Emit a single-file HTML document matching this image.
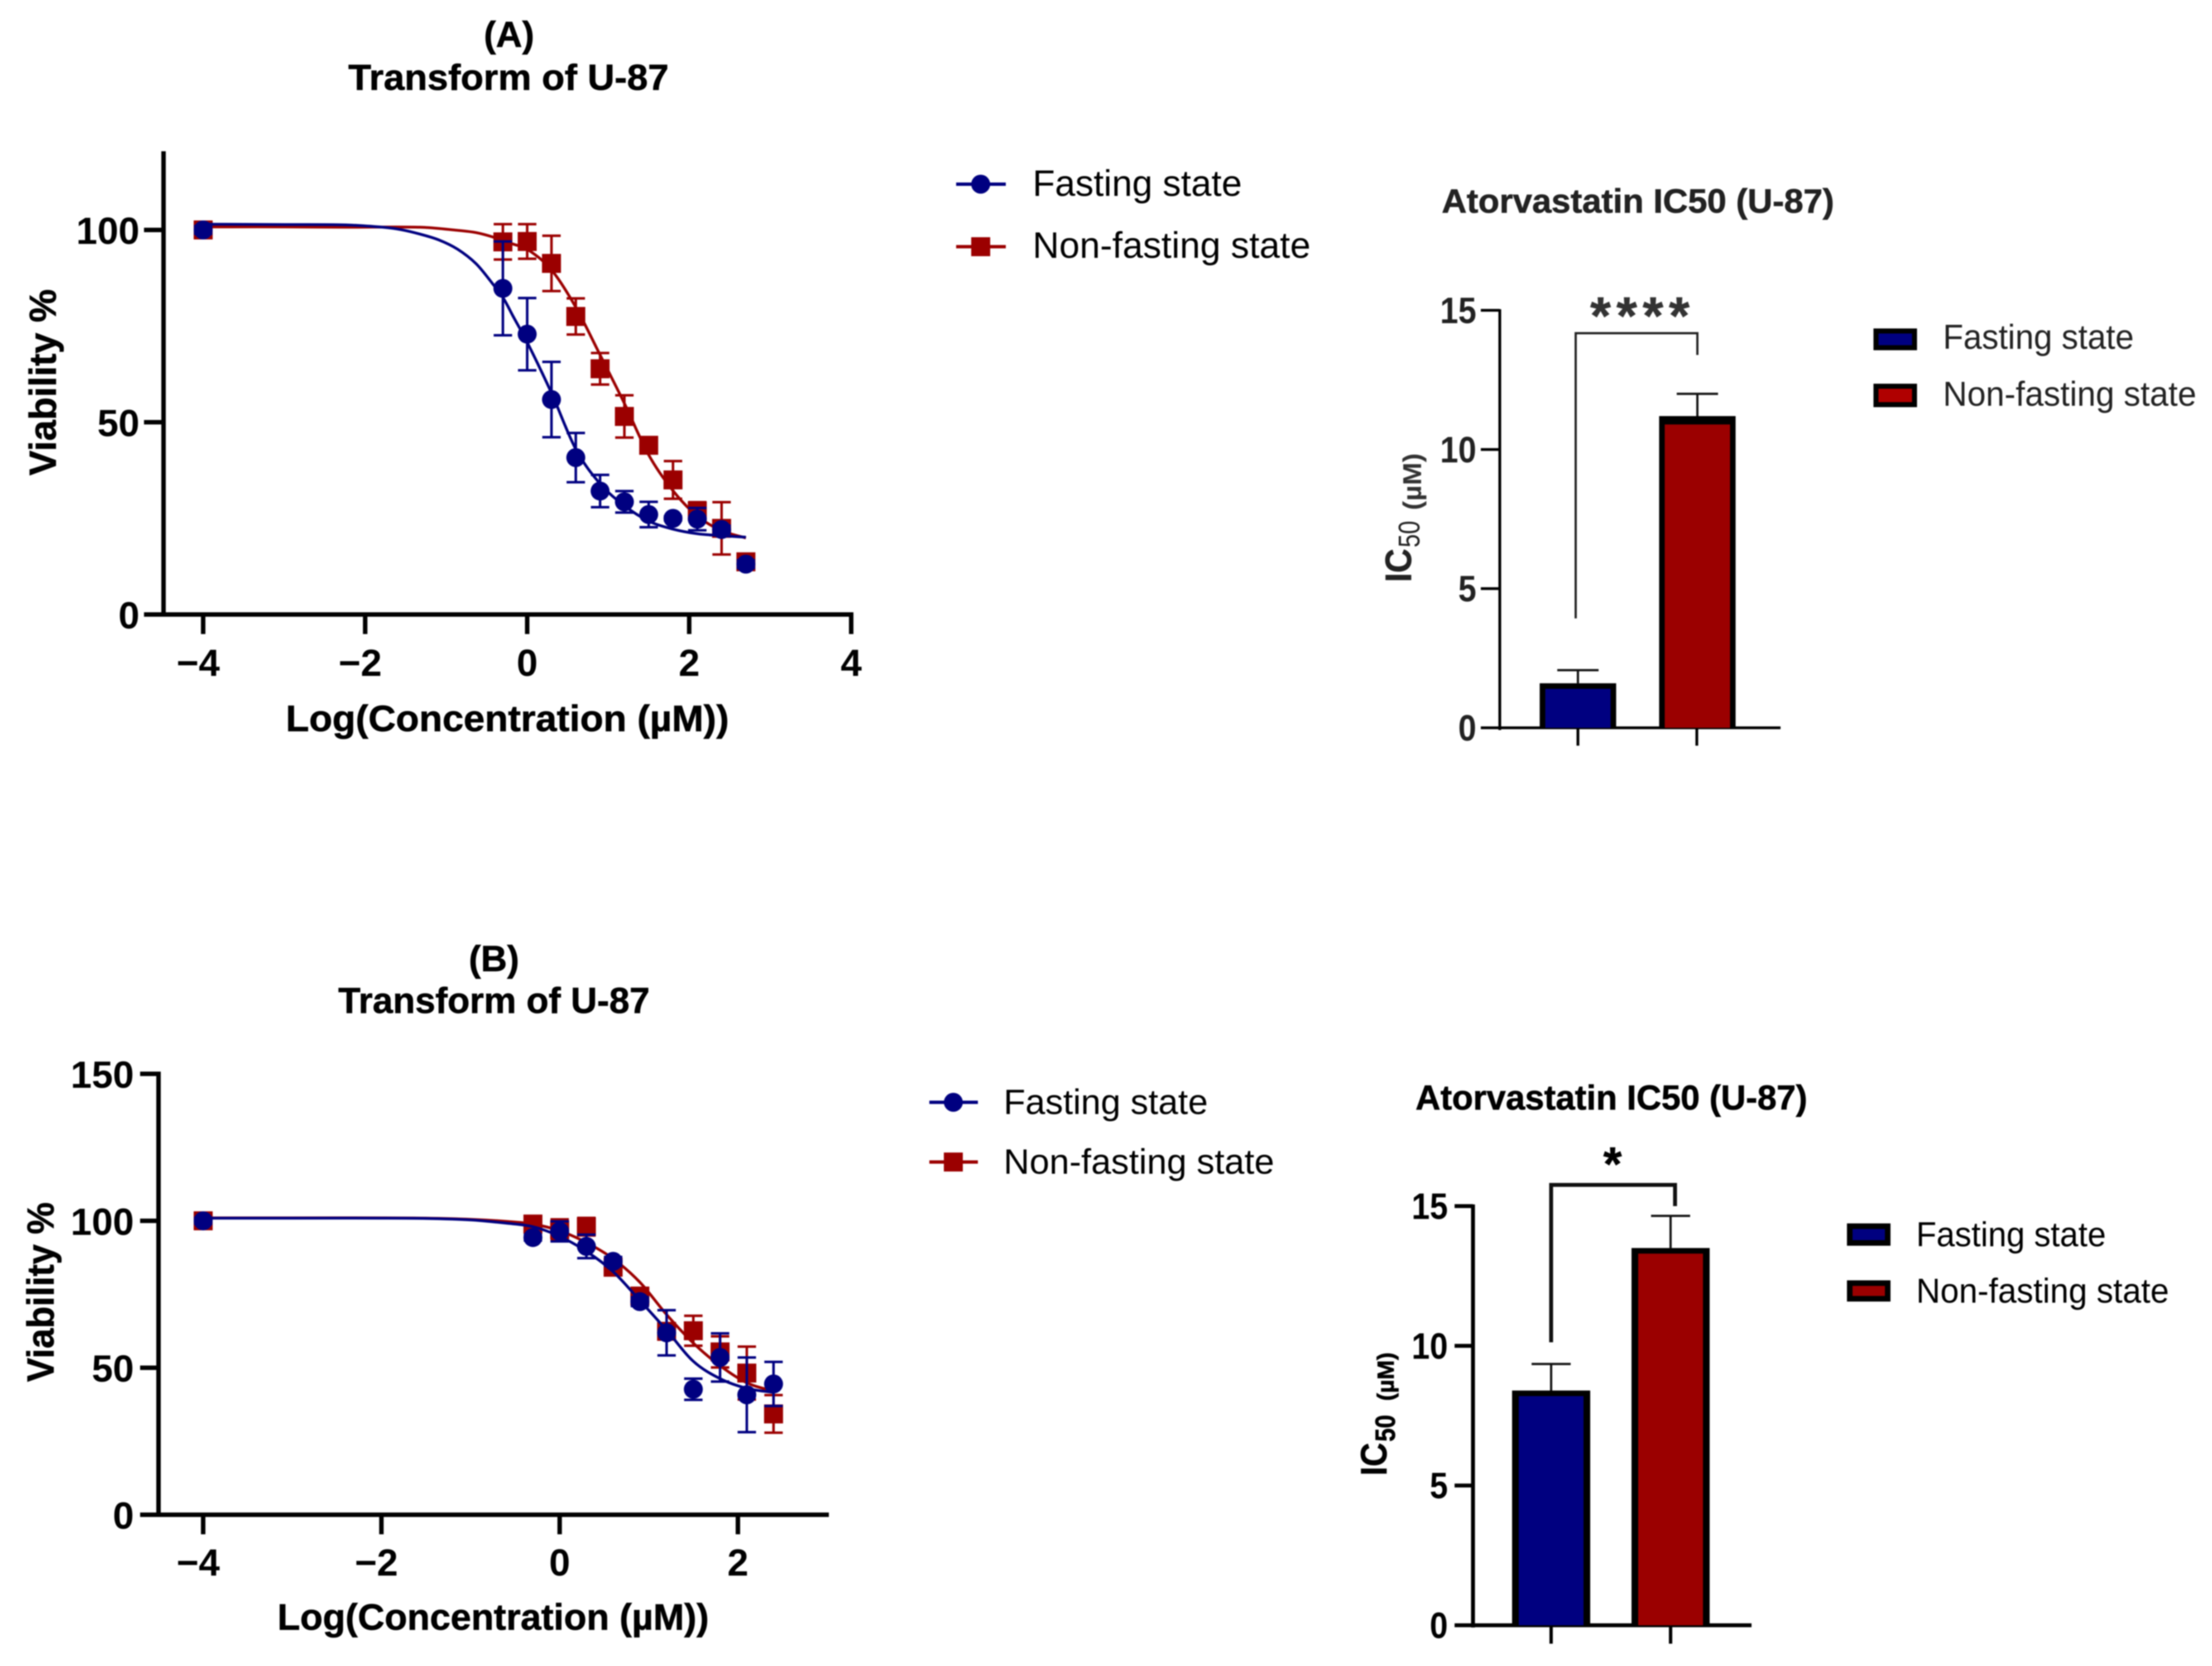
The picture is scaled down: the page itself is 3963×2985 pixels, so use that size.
<!DOCTYPE html>
<html lang="en">
<head>
<meta charset="utf-8">
<title>Atorvastatin viability and IC50 in U-87 cells</title>
<style>
html,body{margin:0;padding:0;background:#fff;}
svg{display:block;font-family:"Liberation Sans",Arial,sans-serif;filter:blur(1px);}
text{fill:#000;}
.b{font-weight:bold;stroke:#000;stroke-width:.8px;}
.title{font-size:65px;font-weight:bold;stroke:#000;stroke-width:.8px;}
.lg{font-size:66px;}
.lg2{font-size:62px;}
</style>
</head>
<body>
<svg id="figure" xmlns="http://www.w3.org/2000/svg" width="3963" height="2985" viewBox="0 0 3963 2985">
<rect width="3963" height="2985" fill="#fff"/>

<text class="title" x="912" y="84" text-anchor="middle">(A)</text>
<text class="title" x="911" y="161" text-anchor="middle" textLength="574" lengthAdjust="spacingAndGlyphs">Transform of U-87</text>
<text class="b" font-size="68" transform="translate(100,852) rotate(-90)" textLength="334" lengthAdjust="spacingAndGlyphs">Viability %</text>
<text class="b" font-size="66" x="512" y="1310" textLength="794" lengthAdjust="spacingAndGlyphs">Log(Concentration (µM))</text>

<g>
<line x1="1713" x2="1802" y1="330" y2="330" stroke="#000080" stroke-width="6"/>
<circle cx="1757" cy="330" r="17" fill="#000080"/>
<text class="lg" x="1850" y="351" textLength="375" lengthAdjust="spacingAndGlyphs">Fasting state</text>
<line x1="1713" x2="1802" y1="442" y2="442" stroke="#9b0000" stroke-width="6"/>
<rect x="1740" y="425" width="34" height="34" fill="#9b0000"/>
<text class="lg" x="1850" y="462" textLength="498" lengthAdjust="spacingAndGlyphs">Non-fasting state</text>
</g>

<text class="b" font-size="60" x="2583" y="381" textLength="703" lengthAdjust="spacingAndGlyphs" style="fill:#222;stroke:#222">Atorvastatin IC50 (U-87)</text>
<g>
<text class="b" font-size="66" transform="translate(2528,1043) rotate(-90)" textLength="60" lengthAdjust="spacingAndGlyphs" style="fill:#222;stroke:#222">IC</text>
<text font-size="54" transform="translate(2543,981) rotate(-90)" textLength="48" lengthAdjust="spacingAndGlyphs" style="fill:#222">50</text>
<text font-size="46" font-weight="bold" transform="translate(2546,914) rotate(-90)" textLength="102" lengthAdjust="spacingAndGlyphs" style="fill:#333">(µM)</text>
</g>
<text class="b" font-size="95" x="2938" y="598" text-anchor="middle" textLength="178" lengthAdjust="spacing" style="fill:#333;stroke:#333">****</text>
<path d="M2823 1108V597H3041V636" fill="none" stroke="#222" stroke-width="4"/>
<g>
<rect x="3361" y="593" width="69" height="30" fill="#000080" stroke="#000" stroke-width="9"/>
<text class="lg2" x="3481" y="625" textLength="342" lengthAdjust="spacingAndGlyphs" style="fill:#222">Fasting state</text>
<rect x="3361" y="692" width="69" height="33" fill="#b00000" stroke="#000" stroke-width="9"/>
<text class="lg2" x="3481" y="727" textLength="454" lengthAdjust="spacingAndGlyphs" style="fill:#222">Non-fasting state</text>
</g>

<text class="title" x="885" y="1740" text-anchor="middle">(B)</text>
<text class="title" x="885" y="1815" text-anchor="middle" textLength="558" lengthAdjust="spacingAndGlyphs">Transform of U-87</text>
<text class="b" font-size="68" transform="translate(96,2476) rotate(-90)" textLength="322" lengthAdjust="spacingAndGlyphs">Viability %</text>
<text class="b" font-size="66" x="497" y="2920" textLength="773" lengthAdjust="spacingAndGlyphs">Log(Concentration (µM))</text>

<g>
<line x1="1665" x2="1752" y1="1975" y2="1975" stroke="#000080" stroke-width="6"/>
<circle cx="1708" cy="1975" r="17" fill="#000080"/>
<text class="lg" x="1798" y="1996" style="font-size:63px" textLength="366" lengthAdjust="spacingAndGlyphs">Fasting state</text>
<line x1="1665" x2="1752" y1="2082" y2="2082" stroke="#9b0000" stroke-width="6"/>
<rect x="1691" y="2065" width="34" height="34" fill="#9b0000"/>
<text class="lg" x="1798" y="2103" style="font-size:63px" textLength="485" lengthAdjust="spacingAndGlyphs">Non-fasting state</text>
</g>

<text class="b" font-size="62" x="2536" y="1988" textLength="702" lengthAdjust="spacingAndGlyphs">Atorvastatin IC50 (U-87)</text>
<g>
<text class="b" font-size="66" transform="translate(2484,2644) rotate(-90)" textLength="59" lengthAdjust="spacingAndGlyphs">IC</text>
<text class="b" font-size="50" transform="translate(2499,2583) rotate(-90)" textLength="48" lengthAdjust="spacingAndGlyphs">50</text>
<text class="b" font-size="42" transform="translate(2497,2510) rotate(-90)" textLength="87" lengthAdjust="spacingAndGlyphs">(µM)</text>
</g>
<text class="b" font-size="85" x="2889" y="2115" text-anchor="middle">*</text>
<path d="M2779 2405V2123H3001V2161" fill="none" stroke="#111" stroke-width="7"/>
<g>
<rect x="3314" y="2197" width="68" height="30" fill="#000080" stroke="#000" stroke-width="10"/>
<text class="lg2" x="3433" y="2233" textLength="340" lengthAdjust="spacingAndGlyphs">Fasting state</text>
<rect x="3314" y="2299" width="68" height="28" fill="#9b0000" stroke="#000" stroke-width="10"/>
<text class="lg2" x="3433" y="2334" textLength="453" lengthAdjust="spacingAndGlyphs">Non-fasting state</text>
</g>

<g id="dose-a"></g>
<g id="dose-b"></g>
<g id="bars-a"></g>
<g id="bars-b"></g>
</svg>

<script>
// ---- Panel A dose-response data ----
const concA = [-4, -0.3, 0, 0.3, 0.6, 0.9, 1.2, 1.5, 1.8, 2.1, 2.4, 2.7];
const fastingA = [100, 84.8, 72.9, 55.9, 40.8, 32.1, 29.3, 26, 25, 24.8, 22.1, 13.1];
const fastingErrA = [1, 12.2, 9.4, 9.8, 6.4, 4.2, 2.8, 3.3, 0.5, 2.9, 1, 1];
const nonFastingA = [100, 96.9, 97, 91.3, 77.5, 63.9, 51.5, 44, 35, 26.9, 22.4, 13.7];
const nonFastingErrA = [1, 4.6, 4.5, 7.2, 4.7, 4.1, 5.5, 1, 4.9, 2.3, 6.8, 1];
const curveConcFastingA = [-4, -3, -2.24, -1.78, -1.55, -1.32, -1.09, -0.86, -0.63, -0.43, -0.29, -0.17, 0, 0.3, 0.6, 0.9, 1.2, 1.5, 1.8, 2.1, 2.4, 2.7];
const curveFastingA = [101.5, 101.4, 101.3, 100.7, 100.05, 98.9, 97.4, 95, 91.2, 86.1, 82.1, 77.4, 70.8, 57.6, 43, 34, 28.3, 24.3, 22.2, 21, 20.5, 20.1];
const curveConcNonFastingA = [-4, -3, -2.24, -1.32, -0.86, -0.63, -0.43, -0.17, 0, 0.3, 0.6, 0.9, 1.2, 1.5, 1.8, 2.1, 2.4, 2.7];
const curveNonFastingA = [100.8, 100.8, 100.7, 100.7, 99.9, 99.3, 98.2, 96.3, 95, 89.6, 79.9, 67.5, 54.9, 41.5, 32.2, 25.6, 21.8, 19.9];
const xTicksA = [-4, -2, 0, 2, 4];
const yTicksA = [0, 50, 100];

// ---- Panel B dose-response data ----
const concB = [-4, -0.3, 0, 0.3, 0.6, 0.9, 1.2, 1.5, 1.8, 2.1, 2.4];
const fastingB = [100, 94.3, 96.4, 91.3, 86.2, 72.5, 61.9, 42.7, 53.5, 40.8, 44.5];
const fastingErrB = [1, 1, 3.4, 4, 1.5, 1.5, 7.7, 3.6, 8.2, 12.7, 7.5];
const nonFastingB = [100, 98.9, 97, 98, 84.2, 74.4, 62.4, 62.6, 55.4, 48.2, 34.3];
const nonFastingErrB = [1, 1, 3.5, 3, 1.5, 1.5, 1.5, 5.1, 5.3, 9, 6.4];
const curveConcB = [-4, -3, -2, -1.5, -1, -0.6, -0.3, 0, 0.3, 0.6, 0.9, 1.2, 1.5, 1.8, 2.1, 2.4];
const curveFastingB = [100.9, 100.9, 100.9, 100.8, 100.3, 99.2, 98, 94.7, 89.6, 82.7, 72.9, 62.8, 52.2, 46.3, 43, 41.6];
const curveNonFastingB = [101, 101, 101, 100.9, 100.5, 99.8, 98.9, 96.6, 92.6, 87.1, 79.1, 68.1, 58.4, 50.7, 44.9, 42];
const xTicksB = [-4, -2, 0, 2];
const yTicksB = [0, 50, 100, 150];

// ---- IC50 bar data ----
const barGroups = ['fasting', 'non-fasting'];
const barValuesA = [1.6, 11.2];
const barErrorsA = [0.47, 0.8];
const barValuesB = [8.4, 13.5];
const barErrorsB = [0.95, 1.15];
const barTicks = [0, 5, 10, 15];

const NS = 'http://www.w3.org/2000/svg';
const NAVY = '#000080';
const RED = '#9b0000';

function linear(d0, d1, r0, r1) {
  return function (v) { return r0 + (v - d0) * (r1 - r0) / (d1 - d0); };
}
function mk(tag, attrs, parent) {
  const node = document.createElementNS(NS, tag);
  for (const k in attrs) node.setAttribute(k, attrs[k]);
  parent.appendChild(node);
  return node;
}
function smoothPath(xs, ys) {
  let d = 'M' + xs[0] + ' ' + ys[0];
  for (let i = 0; i < xs.length - 1; i++) {
    const p = Math.max(i - 1, 0), n = Math.min(i + 2, xs.length - 1);
    const h = xs[i + 1] - xs[i];
    const m0 = (ys[i + 1] - ys[p]) / (xs[i + 1] - xs[p]);
    const m1 = (ys[n] - ys[i]) / (xs[n] - xs[i]);
    d += 'C' + (xs[i] + h / 3) + ' ' + (ys[i] + m0 * h / 3) + ' ' + (xs[i + 1] - h / 3) + ' ' + (ys[i + 1] - m1 * h / 3) + ' ' + xs[i + 1] + ' ' + ys[i + 1];
  }
  return d;
}

function drawAxes(root, o) {
  const yLine = mk('line', { x1: o.axisX, x2: o.axisX, y1: o.axisTop, y2: o.axisY + 4, stroke: '#000', 'stroke-width': o.lw }, root);
  
  
  const xLine = mk('line', { x1: o.axisLeft, x2: o.axisRight, y1: o.axisY, y2: o.axisY, stroke: '#000', 'stroke-width': o.lw }, root);
  
  
  o.yTicks.forEach(function (t) {
    const mark = mk('line', { x1: o.axisLeft, x2: o.axisX, y1: o.y(t), y2: o.y(t), stroke: '#000', 'stroke-width': o.lw }, root);
    
    
    const label = mk('text', { x: o.yLabelX, y: o.y(t) + o.labelDy, 'text-anchor': 'end', 'font-size': o.fs, 'font-weight': 'bold' }, root);
    label.textContent = String(t);
    if (o.digitWidth) {
      label.setAttribute('textLength', String(t).length * o.digitWidth);
      label.setAttribute('lengthAdjust', 'spacingAndGlyphs');
    }
    if (o.textFill) label.style.fill = o.textFill;
    
    
  });
  (o.xTicks || []).forEach(function (t) {
    const mark = mk('line', { x1: o.x(t), x2: o.x(t), y1: o.axisY, y2: o.tickBottom, stroke: '#000', 'stroke-width': o.lw }, root);
    
    
    const label = mk('text', { x: o.x(t) - (t < 0 ? 9 : 0), y: o.xLabelY, 'text-anchor': 'middle', 'font-size': o.fs, 'font-weight': 'bold' }, root);
    label.textContent = String(t).replace('-', '\u2212');
    
    
  });
}

function drawSeries(root, o, conc, vals, errs, curveConc, curve, color, kind) {
  const path = mk('path', { d: smoothPath(curveConc.map(o.x), curve.map(o.y)), fill: 'none', stroke: color, 'stroke-width': 5 }, root);
  
  
  conc.forEach(function (c, i) {
    const px = o.x(c), py = o.y(vals[i]), hi = o.y(vals[i] + errs[i]), lo = o.y(vals[i] - errs[i]);
    const err = mk('path', {
      d: 'M' + (px - 16.5) + ' ' + hi + 'H' + (px + 16.5) + 'M' + px + ' ' + hi + 'V' + lo + 'M' + (px - 16.5) + ' ' + lo + 'H' + (px + 16.5),
      fill: 'none', stroke: color, 'stroke-width': 4.5
    }, root);
    
    
    if (kind === 'fasting') {
      const dot = mk('circle', { cx: px, cy: py, r: 17, fill: color }, root);
      
      
    } else {
      const sq = mk('rect', { x: px - 17, y: py - 17, width: 34, height: 34, fill: color }, root);
      
      
    }
  });
}

function drawBars(root, o, values, errors, centers, fills, topBorders) {
  values.forEach(function (v, i) {
    const cx = centers[i], top = o.y(v), errTop = o.y(v + errors[i]);
    const err = mk('path', {
      d: 'M' + (cx - o.capW / 2) + ' ' + errTop + 'H' + (cx + o.capW / 2) + 'M' + cx + ' ' + errTop + 'V' + top,
      fill: 'none', stroke: '#111', 'stroke-width': 4
    }, root);
    
    
    const outer = mk('rect', { x: cx - o.barW / 2, y: top, width: o.barW, height: o.y(0) - top, fill: '#000' }, root);
    
    
    const inner = mk('rect', { x: cx - o.barW / 2 + o.border, y: top + topBorders[i], width: o.barW - 2 * o.border, height: Math.max(0, o.y(0) - top - topBorders[i]), fill: fills[i] }, root);
    
    
  });
}

// Panel A
const doseA = {
  x: linear(-4, 4, 364, 1525), y: linear(0, 100, 1101, 412),
  axisX: 293, axisTop: 271, axisY: 1101, axisLeft: 258, axisRight: 1529, tickBottom: 1136,
  lw: 8, fs: 68, labelDy: 25, yLabelX: 250, xLabelY: 1211, xTicks: xTicksA, yTicks: yTicksA
};
const rootA = document.getElementById('dose-a');
drawAxes(rootA, doseA);
drawSeries(rootA, doseA, concA, nonFastingA, nonFastingErrA, curveConcNonFastingA, curveNonFastingA, RED, 'non-fasting');
drawSeries(rootA, doseA, concA, fastingA, fastingErrA, curveConcFastingA, curveFastingA, NAVY, 'fasting');

// Panel B
const doseB = {
  x: linear(-4, 2, 364, 1322), y: linear(0, 150, 2714, 1924),
  axisX: 284, axisTop: 1920, axisY: 2714, axisLeft: 251, axisRight: 1485, tickBottom: 2749,
  lw: 8, fs: 68, labelDy: 25, yLabelX: 240, xLabelY: 2823, xTicks: xTicksB, yTicks: yTicksB
};
const rootB = document.getElementById('dose-b');
drawAxes(rootB, doseB);
drawSeries(rootB, doseB, concB, nonFastingB, nonFastingErrB, curveConcB, curveNonFastingB, RED, 'non-fasting');
drawSeries(rootB, doseB, concB, fastingB, fastingErrB, curveConcB, curveFastingB, NAVY, 'fasting');

// IC50 bars A
const barA = {
  y: linear(0, 15, 1304, 556),
  axisX: 2687, axisTop: 554, axisY: 1304, axisLeft: 2653, axisRight: 3190, tickBottom: 1336,
  lw: 5, fs: 66, labelDy: 23, yLabelX: 2645, digitWidth: 32.5, textFill: '#222', yTicks: barTicks,
  barW: 137, border: 10, capW: 74
};
const rootBarA = document.getElementById('bars-a');
drawAxes(rootBarA, barA);
drawBars(rootBarA, barA, barValuesA, barErrorsA, [2827, 3041], [NAVY, RED], [10, 15]);
[2827, 3040].forEach(function (tx) {
  const t = mk('line', { x1: tx, x2: tx, y1: 1304, y2: 1336, stroke: '#000', 'stroke-width': 5 }, rootBarA);
  
  
});

// IC50 bars B
const barB = {
  y: linear(0, 15, 2912, 2161),
  axisX: 2639, axisTop: 2158, axisY: 2912, axisLeft: 2606, axisRight: 3138, tickBottom: 2945,
  lw: 7, fs: 66, labelDy: 23, yLabelX: 2594, digitWidth: 32.5, yTicks: barTicks,
  barW: 140, border: 12, capW: 70
};
const rootBarB = document.getElementById('bars-b');
drawAxes(rootBarB, barB);
drawBars(rootBarB, barB, barValuesB, barErrorsB, [2779, 2993], [NAVY, RED], [10, 10]);
[2779, 2993].forEach(function (tx) {
  const t = mk('line', { x1: tx, x2: tx, y1: 2912, y2: 2945, stroke: '#000', 'stroke-width': 6 }, rootBarB);
  
  
});
</script>
</body>
</html>
